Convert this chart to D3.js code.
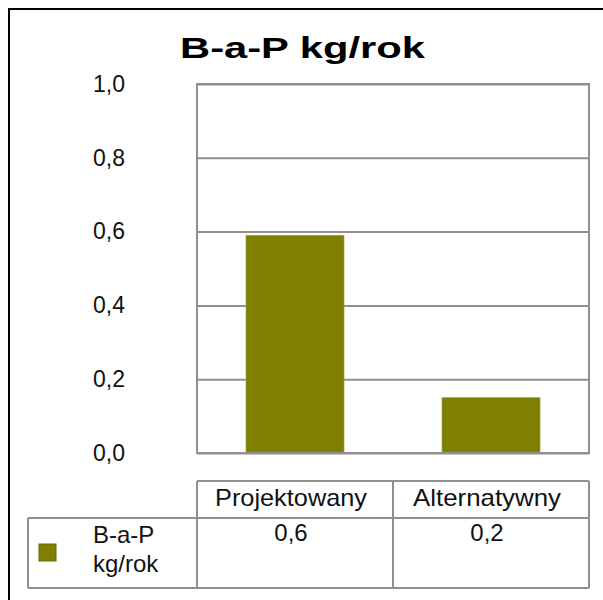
<!DOCTYPE html>
<html>
<head>
<meta charset="utf-8">
<script src="https://cdn.jsdelivr.net/npm/d3@7"></script>
<style>
  body { margin: 0; background: #fff; }
  text { font-family: "Liberation Sans", Arial, sans-serif; fill: #111; }
</style>
</head>
<body>
<div id="chart"></div>
<script>
let categories = ["Projektowany", "Alternatywny"];
let values = [0.59, 0.15];
let tableValues = ["0,6", "0,2"];
let yTicks = [0, 0.2, 0.4, 0.6, 0.8, 1.0];
let seriesName = ["B-a-P", "kg/rok"];
let title = "B-a-P kg/rok";

let margin = { top: 84, left: 197 };
let width = 392;
let height = 369;
let olive = "#808000";
let lineColor = "#8f8f8f";

let svg = d3
  .select("#chart")
  .append("svg")
  .attr("width", 603)
  .attr("height", 600);

// outer chart border, runs off the right and bottom edges
svg.append("rect")
  .attr("x", 9).attr("y", 9)
  .attr("width", 640).attr("height", 640)
  .attr("fill", "none")
  .attr("stroke", "#000")
  .attr("stroke-width", 2);

svg.append("text")
  .attr("x", 180).attr("y", 58)
  .attr("font-size", 30)
  .attr("font-weight", "bold")
  .attr("textLength", 245)
  .attr("lengthAdjust", "spacingAndGlyphs")
  .style("fill", "#000")
  .text(title);

let g = svg.append("g")
  .attr("transform", "translate(" + margin.left + "," + margin.top + ")");

let y = d3.scaleLinear().domain([0, 1]).range([height, 0]);
let xCol = d3.scaleBand().domain(categories).range([0, width]);
let xBar = d3.scaleBand().domain(categories).range([0, width])
  .paddingInner(0.5).paddingOuter(0.25);

// gridlines
g.append("g")
  .call(d3.axisLeft(y).tickValues(yTicks).tickSize(-width).tickFormat(""))
  .call((a) => a.select(".domain").remove())
  .call((a) => a.selectAll("line").attr("stroke", lineColor).attr("stroke-width", 2));

// tick labels
g.append("g")
  .call(d3.axisLeft(y).tickValues(yTicks).tickSize(0).tickPadding(72)
    .tickFormat((d) => d3.format(".1f")(d).replace(".", ",")))
  .call((a) => a.select(".domain").remove())
  .call((a) => a.selectAll("text").attr("font-size", 23).attr("font-family", null).style("fill", "#111"));

g.selectAll(".bar")
  .data(values)
  .enter()
  .append("rect")
  .attr("class", "bar")
  .attr("x", (d, i) => xBar(categories[i]))
  .attr("width", xBar.bandwidth())
  .attr("y", (d) => y(d))
  .attr("height", (d) => height - y(d))
  .attr("fill", olive)
  .attr("stroke", "#a3a33a")
  .attr("stroke-width", 0.7);

g.append("rect")
  .attr("width", width).attr("height", height)
  .attr("fill", "none")
  .attr("stroke", lineColor)
  .attr("stroke-width", 2);

// data table
let tTop = 481 - margin.top;
let tMid = 518 - margin.top;
let tBot = 588 - margin.top;
let tLeft = 28 - margin.left;

let tbl = g.append("g")
  .attr("stroke", lineColor)
  .attr("stroke-width", 2);
tbl.append("line").attr("x1", 0).attr("x2", width).attr("y1", tTop).attr("y2", tTop);
tbl.append("line").attr("x1", tLeft).attr("x2", width).attr("y1", tMid).attr("y2", tMid);
tbl.append("line").attr("x1", tLeft).attr("x2", width).attr("y1", tBot).attr("y2", tBot);
tbl.append("line").attr("x1", tLeft).attr("x2", tLeft).attr("y1", tMid).attr("y2", tBot);
tbl.selectAll(".vline")
  .data(categories.concat(["end"]))
  .enter()
  .append("line")
  .attr("x1", (d, i) => i * xCol.step())
  .attr("x2", (d, i) => i * xCol.step())
  .attr("y1", tTop)
  .attr("y2", tBot);

g.selectAll(".colLabel")
  .data(categories)
  .enter()
  .append("text")
  .attr("class", "colLabel")
  .attr("x", (d) => xCol(d) + xCol.bandwidth() / 2 - 4)
  .attr("y", 506 - margin.top)
  .attr("text-anchor", "middle")
  .attr("font-size", 24)
  .attr("textLength", (d, i) => [152, 148][i])
  .attr("lengthAdjust", "spacingAndGlyphs")
  .text((d) => d);

g.selectAll(".cellValue")
  .data(tableValues)
  .enter()
  .append("text")
  .attr("class", "cellValue")
  .attr("x", (d, i) => xCol(categories[i]) + xCol.bandwidth() / 2 - 4)
  .attr("y", 541 - margin.top)
  .attr("text-anchor", "middle")
  .attr("font-size", 24)
  .text((d) => d);

svg.append("rect")
  .attr("x", 39).attr("y", 544)
  .attr("width", 17).attr("height", 17)
  .attr("fill", olive)
  .attr("stroke", "#6b6b00")
  .attr("stroke-width", 1);

svg.selectAll(".legendText")
  .data(seriesName)
  .enter()
  .append("text")
  .attr("class", "legendText")
  .attr("x", 93)
  .attr("y", (d, i) => 543 + i * 29)
  .attr("font-size", 24)
  .text((d) => d);
</script>
</body>
</html>
